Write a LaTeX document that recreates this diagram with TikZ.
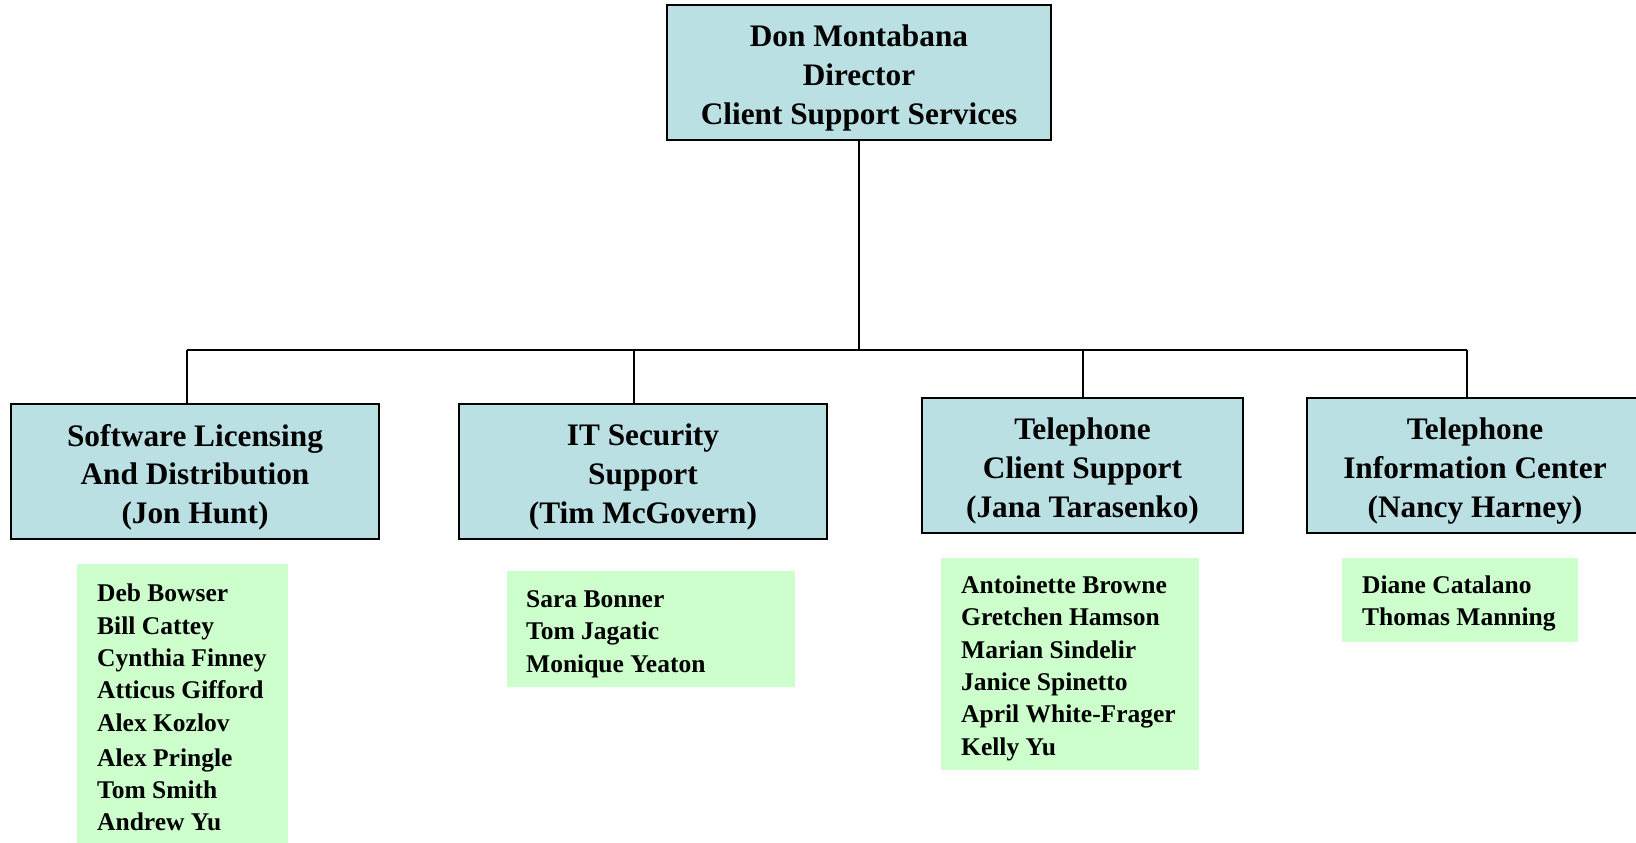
\documentclass[tikz,border=0pt]{standalone}
\usepackage{fontspec}
\setmainfont{Liberation Serif}
\definecolor{boxblue}{HTML}{BBE0E3}
\definecolor{listgreen}{HTML}{CCFFCC}
\begin{document}
\begin{tikzpicture}[x=1pt,y=-1pt,
  unitbox/.style={draw=black,line width=2.2pt,fill=boxblue,inner sep=0pt,minimum height=135pt},
  unittext/.style={inner sep=0pt,align=center,font=\fontsize{31.3}{38.6}\selectfont\bfseries},
  listbox/.style={fill=listgreen,inner sep=0pt,anchor=north west},
  listtext/.style={anchor=west,inner sep=0pt,align=left,font=\fontsize{25.5}{32.3}\selectfont\bfseries},
  link/.style={line width=1.8pt}]
\useasboundingbox (0,0) rectangle (1636,843);

\node[unitbox,minimum width=384pt] (top) at (859,72.5) {};
\node[unittext] (topt) at ([yshift=-5.5pt]top.center) {Don Montabana\\Director\\Client Support Services};

\node[unitbox,minimum width=368pt] (b1) at (195,471.5) {};
\node[unittext] (b1t) at ([yshift=-5.5pt]b1.center) {Software Licensing\\And Distribution\\(Jon Hunt)};
\node[unitbox,minimum width=368pt] (b2) at (643,471.5) {};
\node[unittext] (b2t) at ([yshift=-5.5pt]b2.center) {IT Security\\Support\\(Tim McGovern)};
\node[unitbox,minimum width=321pt] (b3) at (1082.5,465.5) {};
\node[unittext] (b3t) at ([yshift=-5.5pt]b3.center) {Telephone\\Client Support\\(Jana Tarasenko)};
\node[unitbox,minimum width=336pt] (b4) at (1475,465.5) {};
\node[unittext] (b4t) at ([yshift=-5.5pt]b4.center) {Telephone\\Information Center\\(Nancy Harney)};

\coordinate (j1) at (187,350);
\coordinate (j2) at (634,350);
\coordinate (j3) at (1083,350);
\coordinate (j4) at (1467,350);

\draw[link] (top.south) -- (top.south |- j1);
\draw[link] (j1) -- (j4);
\draw[link] (j1) -- (j1 |- b1.north);
\draw[link] (j2) -- (j2 |- b2.north);
\draw[link] (j3) -- (j3 |- b3.north);
\draw[link] (j4) -- (j4 |- b4.north);

\node[listbox,minimum width=211pt,minimum height=285pt] (g1) at (77,564) {};
\node[listbox,minimum width=288pt,minimum height=116pt] (g2) at (507,571) {};
\node[listbox,minimum width=258pt,minimum height=212pt] (g3) at (941,558) {};
\node[listbox,minimum width=236pt,minimum height=84pt] (g4) at (1342,558) {};

\node[listtext] (t1) at ([xshift=20pt,yshift=-1pt]g1.west) {Deb Bowser\\Bill Cattey\\Cynthia Finney\\Atticus Gifford\\Alex Kozlov\\[3pt]Alex Pringle\\Tom Smith\\Andrew Yu};
\node[listtext] (t2) at ([xshift=19pt,yshift=-5pt]g2.west) {Sara Bonner\\Tom Jagatic\\Monique Yeaton};
\node[listtext] (t3) at ([xshift=20pt,yshift=-4pt]g3.west) {Antoinette Browne\\Gretchen Hamson\\Marian Sindelir\\Janice Spinetto\\April White-Frager\\Kelly Yu};
\node[listtext] (t4) at ([xshift=20pt,yshift=-3pt]g4.west) {Diane Catalano\\Thomas Manning};
\end{tikzpicture}
\end{document}
